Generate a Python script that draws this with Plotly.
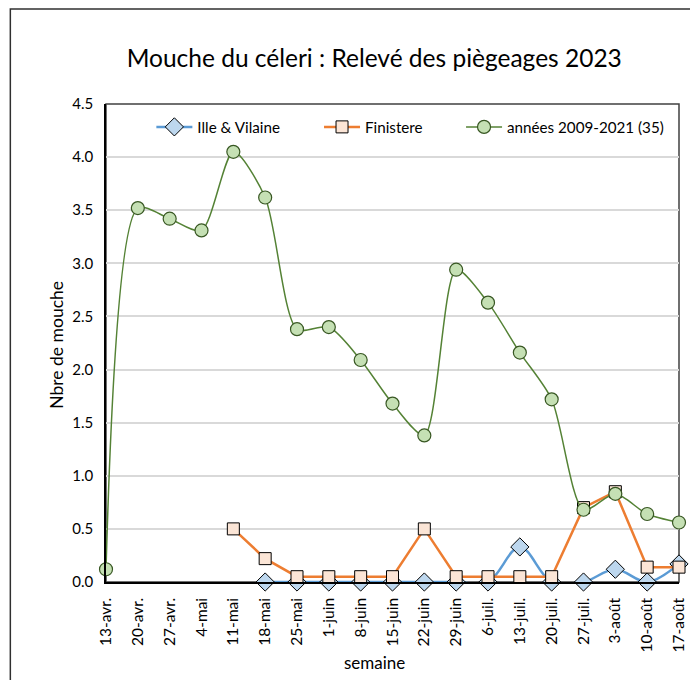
import plotly.graph_objects as go

# weekly trap counts
semaines = ['13-avr.', '20-avr.', '27-avr.', '4-mai', '11-mai', '18-mai', '25-mai',
            '1-juin', '8-juin', '15-juin', '22-juin', '29-juin', '6-juil.', '13-juil.',
            '20-juil.', '27-juil.', '3-août', '10-août', '17-août']

ille_vilaine = [None, None, None, None, None, 0, 0, 0, 0, 0, 0, 0, 0, 0.33,
                0, 0, 0.12, 0, 0.17]
finistere = [None, None, None, None, 0.5, 0.22, 0.05, 0.05, 0.05, 0.05, 0.5, 0.05,
             0.05, 0.05, 0.05, 0.70, 0.85, 0.14, 0.14]
annees_2009_2021 = [0.12, 3.52, 3.42, 3.31, 4.05, 3.62, 2.38, 2.40, 2.09, 1.68, 1.38,
                    2.94, 2.63, 2.16, 1.72, 0.68, 0.83, 0.64, 0.56]

FONT = "Lato"
W, H = 690, 672
L, R, T, B = 98, 11, 96, 98
pw, ph = W - L - R, H - T - B
OFF = 8  # page body margin

fig = go.Figure()

fig.add_trace(go.Scatter(
    x=semaines, y=ille_vilaine, name="Ille & Vilaine", mode="lines+markers",
    line=dict(color="#5B9BD5", width=2.5, shape="spline", smoothing=1),
    marker=dict(symbol="diamond", size=14, color="#BDD7EE", line=dict(color="black", width=1)),
    cliponaxis=False, legend="legend",
))
fig.add_trace(go.Scatter(
    x=semaines, y=finistere, name="Finistere", mode="lines+markers",
    line=dict(color="#ED7D31", width=2.5),
    marker=dict(symbol="square", size=12, color="#FBE5D6", line=dict(color="black", width=1)),
    cliponaxis=False, legend="legend2",
))
fig.add_trace(go.Scatter(
    x=semaines, y=annees_2009_2021, name="années 2009-2021 (35)", mode="lines+markers",
    line=dict(color="#548235", width=1.5, shape="spline", smoothing=0.75),
    marker=dict(symbol="circle", size=13, color="#C5E0B4", line=dict(color="#385723", width=1.2)),
    cliponaxis=False, legend="legend3",
))

# plot area border and outer chart border
fig.add_shape(type="rect", xref="paper", yref="paper", x0=0, x1=1, y0=0, y1=1,
              line=dict(color="#404040", width=1.5), layer="below")
fig.add_shape(type="rect", xref="paper", yref="paper",
              x0=-(L - 1) / pw, x1=1.2, y0=-0.4, y1=1 + (T - 1) / ph,
              line=dict(color="#303030", width=1.5), layer="below")

# axis titles as annotations for exact placement
fig.add_annotation(text="semaine", xref="paper", yref="paper",
                   x=(378 - OFF - L) / pw, y=-(662 - OFF - T - ph) / ph,
                   showarrow=False, font=dict(size=17), xanchor="center", yanchor="middle")
fig.add_annotation(text="Nbre de mouche", xref="paper", yref="paper", textangle=-90,
                   x=-(L - (55 - OFF)) / pw, y=1 - (345 - OFF - T) / ph,
                   showarrow=False, font=dict(size=17.5), xanchor="center", yanchor="middle")


def leg(px):
    return dict(orientation="h", x=(px - OFF - L) / pw, xanchor="left",
                y=1 - (127 - OFF - T) / ph, yanchor="middle", itemwidth=36,
                font=dict(size=15.2), bgcolor="rgba(0,0,0,0)")


fig.update_layout(
    width=W, height=H,
    margin=dict(l=L, r=R, t=T, b=B),
    paper_bgcolor="white", plot_bgcolor="white",
    font=dict(family=FONT, color="black", size=15),
    showlegend=True,
    title=dict(text="Mouche du céleri : Relevé des piègeages 2023",
               font=dict(size=24.5, family=FONT), x=(378 - OFF - L) / pw, xref="paper",
               xanchor="center", y=1 - (58 - OFF) / H, yanchor="middle"),
    legend=leg(152),
    legend2=leg(322),
    legend3=leg(466),
    xaxis=dict(
        type="category", range=[0, 18], tickangle=-90, showgrid=False,
        showline=True, linecolor="black", linewidth=1.5, ticks="",
        tickfont=dict(size=15.5), ticklabelstandoff=8,
    ),
    yaxis=dict(
        range=[0, 4.5], dtick=0.5, tickformat=".1f", showgrid=True,
        gridcolor="#D9D9D9", gridwidth=1.5, zeroline=False,
        showline=True, linecolor="black", linewidth=1.5, ticks="",
        tickfont=dict(size=15), ticklabelstandoff=8,
    ),
)

fig.write_html("out.html")
